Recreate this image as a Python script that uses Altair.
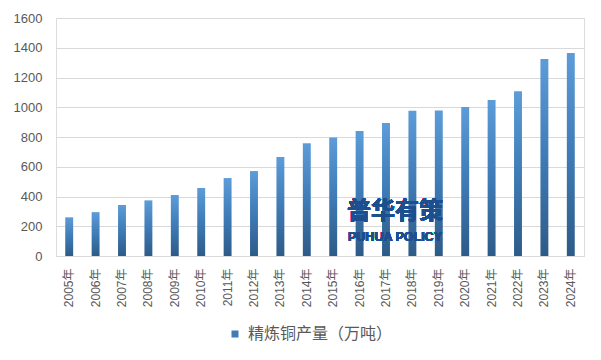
import altair as alt
import pandas as pd

years = ["2005年", "2006年", "2007年", "2008年", "2009年", "2010年", "2011年", "2012年",
         "2013年", "2014年", "2015年", "2016年", "2017年", "2018年", "2019年", "2020年",
         "2021年", "2022年", "2023年", "2024年"]
values = [260, 295, 343, 374, 410, 457, 524, 571, 665, 758, 796, 840, 894, 976, 978, 1002,
          1049, 1108, 1324, 1365]
y_ticks = [0, 200, 400, 600, 800, 1000, 1200, 1400, 1600]
series_name = "精炼铜产量（万吨）"

df = pd.DataFrame({"year": years, "value": values, "series": series_name})

FONT = "Liberation Sans, Noto Sans CJK SC, sans-serif"

grad = alt.Gradient(
    gradient="linear",
    stops=[alt.GradientStop(color="#2d5b88", offset=0),
           alt.GradientStop(color="#3f7bb6", offset=0.5),
           alt.GradientStop(color="#5c9cd8", offset=1)],
    x1=0, x2=0, y1=1, y2=0,
)

x_enc = alt.X("year:N", sort=years,
              scale=alt.Scale(paddingInner=0.7, paddingOuter=0.35),
              axis=alt.Axis(title=None, labelAngle=-90, labelFontSize=12, labelColor="#595959",
                            labelFont=FONT, ticks=False, domain=True, domainColor="#d9d9d9",
                            labelPadding=12, labelBaseline="middle", labelAlign="right"))
y_enc = alt.Y("value:Q",
              scale=alt.Scale(domain=[0, 1600], nice=False),
              axis=alt.Axis(title=None, values=y_ticks, format="d",
                            labelOverlap=False, labelFontSize=13,
                            labelColor="#595959", labelFont=FONT, ticks=False, domain=False,
                            gridColor="#d9d9d9", labelPadding=14))

bars = alt.Chart(df).mark_bar(fill=grad).encode(x=x_enc, y=y_enc)

legend_pts = alt.Chart(df).mark_point(opacity=0, filled=True, shape="square").encode(
    x=x_enc,
    y=y_enc,
    color=alt.Color("series:N", scale=alt.Scale(range=["#3f7bb6"]),
                    legend=alt.Legend(title=None, orient="none", legendX=171, legendY=308,
                                      symbolType="square", symbolSize=49, symbolOpacity=1,
                                      labelFontSize=16, labelColor="#595959", labelFont=FONT,
                                      symbolStrokeWidth=0, labelOffset=5)),
)

wm1 = alt.Chart(df).mark_text(text="普华有策", font="Noto Sans CJK SC", fontWeight="bold",
                              fontSize=24, color="#1d4f8f", opacity=0.9).encode(
    x=alt.value(339), y=alt.value(194))
wm2 = alt.Chart(df).mark_text(text="PUHUA POLICY", font="Liberation Sans",
                              fontWeight="bold", fontSize=12.5, color="#1d4f8f", opacity=0.9).encode(
    x=alt.value(339), y=alt.value(219))

chart = alt.layer(bars, legend_pts, wm1, wm2).properties(
    width=528, height=238,
    autosize=alt.AutoSizeParams(type="none"),
    padding={"left": 48, "top": 10, "right": 9, "bottom": 92},
).configure_view(stroke=None).configure(background="white")

chart.save("out.html", embed_options={"renderer": "svg", "actions": False})
